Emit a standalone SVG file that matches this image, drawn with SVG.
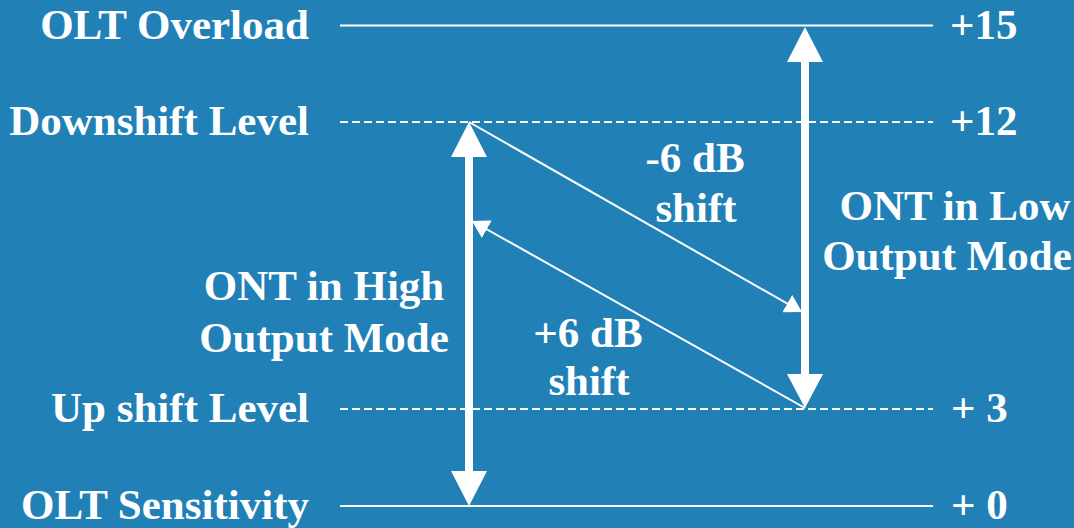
<svg xmlns="http://www.w3.org/2000/svg" width="1074" height="528" viewBox="0 0 1074 528">
<style>
.lbl{font-family:"Liberation Serif","Times New Roman",serif;font-weight:bold;font-size:43px;fill:#fff}
.end{text-anchor:end}
.mid{text-anchor:middle}
.solid{stroke:#fff;stroke-width:2;fill:none}
.dash{stroke:#fff;stroke-width:2;fill:none;stroke-dasharray:8 4}
.thin{stroke:#fff;stroke-width:2;fill:none;marker-end:url(#ah)}
.thick{fill:#fff}
</style>
<defs>
<marker id="ah" markerUnits="userSpaceOnUse" markerWidth="18" markerHeight="20" refX="17" refY="10" orient="auto" viewBox="0 0 18 20">
<path d="M0,0 L17,10 L0,20 z" fill="#fff"/>
</marker>
</defs>
<rect width="1074" height="528" fill="#2181b7"/>
<g id="levels">
<line class="solid" x1="340" y1="25.5" x2="933" y2="25.5"/>
<line class="dash" x1="340" y1="122" x2="933" y2="122"/>
<line class="dash" x1="340" y1="409" x2="933" y2="409"/>
<line class="solid" x1="340" y1="506" x2="933" y2="506"/>
</g>
<g id="left-labels">
<text class="lbl end" x="309" y="39">OLT Overload</text>
<text class="lbl end" x="309" y="135">Downshift Level</text>
<text class="lbl end" x="309" y="422">Up shift Level</text>
<text class="lbl end" x="309" y="519">OLT Sensitivity</text>
</g>
<g id="right-labels">
<text class="lbl" x="950" y="39">+15</text>
<text class="lbl" x="950" y="135">+12</text>
<text class="lbl" x="951" y="422">+ 3</text>
<text class="lbl" x="951" y="519">+ 0</text>
</g>
<g id="high-mode">
<path class="thick" d="M469,122 L487,157 L473,157 L473,471 L487,471 L469,506 L451,471 L465,471 L465,157 L451,157 Z"/>
<text class="lbl mid" x="324" y="300">ONT in High</text>
<text class="lbl mid" x="324" y="352">Output Mode</text>
</g>
<g id="low-mode">
<path class="thick" d="M805,27 L823,62 L809,62 L809,374 L823,374 L805,408 L787,374 L801,374 L801,62 L787,62 Z"/>
<text class="lbl mid" x="955" y="220">ONT in Low</text>
<text class="lbl mid" x="947" y="270">Output Mode</text>
</g>
<g id="connectors">
<line class="thin" x1="469" y1="122" x2="802" y2="312"/>
<line class="thin" x1="805" y1="408" x2="472" y2="221"/>
</g>
<g id="shift-labels">
<text class="lbl mid" x="695" y="172">-6 dB</text>
<text class="lbl mid" x="696" y="222">shift</text>
<text class="lbl mid" x="588" y="347">+6 dB</text>
<text class="lbl mid" x="589" y="395">shift</text>
</g>
</svg>
